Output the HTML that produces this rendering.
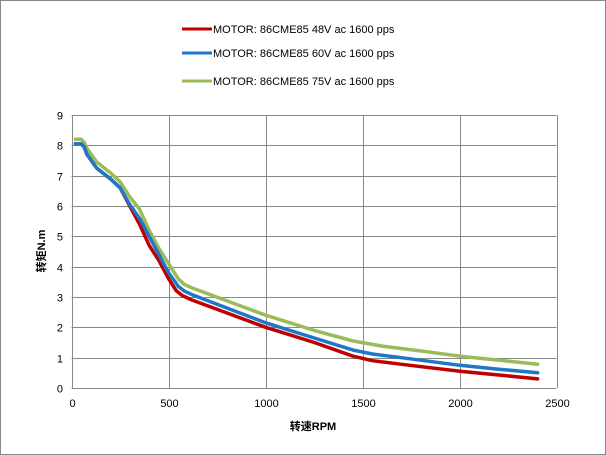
<!DOCTYPE html>
<html><head><meta charset="utf-8"><style>
html,body{margin:0;padding:0;background:#fff}
svg{display:block}
text{font-family:"Liberation Sans","Noto Sans CJK SC",sans-serif;font-size:11px;fill:#000}
</style></head><body>
<svg id="s" width="606" height="455" viewBox="0 0 606 455">
<rect x="0.5" y="0.5" width="605" height="454" fill="#fff" stroke="#888"/>
<g id="grid" stroke="#888" stroke-width="1"></g>
<g id="lab"></g>
<g id="ser" fill="none" stroke-width="3.5" stroke-linejoin="round" stroke-linecap="round"></g>
<line x1="182" y1="29" x2="212" y2="29" stroke="#C00000" stroke-width="3"/>
<text x="213" y="33" font-size="12">MOTOR: 86CME85 48V ac 1600 pps</text>
<line x1="182" y1="53" x2="212" y2="53" stroke="#1F77C8" stroke-width="3"/>
<text x="213" y="57" font-size="12">MOTOR: 86CME85 60V ac 1600 pps</text>
<line x1="182" y1="81" x2="212" y2="81" stroke="#9BBB59" stroke-width="3"/>
<text x="213" y="85" font-size="12">MOTOR: 86CME85 75V ac 1600 pps</text>
<text x="313" y="430" text-anchor="middle" font-weight="bold" font-size="12">转速RPM</text>
<text transform="translate(45,251) rotate(-90)" text-anchor="middle" font-weight="bold" font-size="12">转矩N.m</text>
</svg>
<script>
var X=function(r){return 71.5+r*0.1942},Y=function(v){return 388-v*30.33};
var g=document.getElementById('grid'),l=document.getElementById('lab'),ns='http://www.w3.org/2000/svg';
function el(p,t,a,txt){var e=document.createElementNS(ns,t);for(var k in a)e.setAttribute(k,a[k]);if(txt!==undefined)e.textContent=txt;p.appendChild(e);}
for(var v=0;v<=9;v++){var y=Math.round(Y(v))+0.5;el(g,'line',{x1:71.5,x2:556.5,y1:y,y2:y});el(l,'text',{x:63,y:y+4,'text-anchor':'end'},v);}
for(var r=0;r<=2500;r+=500){var x=Math.round(X(r))+0.5;el(g,'line',{x1:x,x2:x,y1:Y(9),y2:388});el(l,'text',{x:x,y:407,'text-anchor':'middle'},r);}
var S=[
['#9BBB59',[[20,8.2],[50,8.2],[65,8.1],[80,7.9],[130,7.45],[200,7.1],[250,6.8],[300,6.3],[350,5.9],[400,5.2],[450,4.6],[500,4.1],[550,3.6],[580,3.42],[620,3.3],[1000,2.4],[1250,1.9],[1450,1.55],[1600,1.38],[1800,1.22],[2000,1.05],[2200,0.92],[2400,0.78]]],
['#C00000',[[20,8.05],[50,8.05],[65,7.95],[80,7.7],[130,7.25],[200,6.9],[250,6.6],[300,6.0],[350,5.4],[400,4.7],[450,4.2],[500,3.6],[540,3.2],[570,3.05],[620,2.9],[1000,2.0],[1250,1.5],[1450,1.05],[1550,0.9],[1700,0.78],[2000,0.55],[2200,0.43],[2400,0.3]]],
['#1F77C8',[[20,8.05],[50,8.05],[65,7.95],[80,7.7],[130,7.25],[200,6.9],[250,6.6],[300,6.05],[350,5.6],[400,5.0],[450,4.4],[500,3.8],[550,3.35],[580,3.2],[620,3.08],[1000,2.15],[1250,1.65],[1450,1.25],[1550,1.12],[1700,1.0],[2000,0.75],[2200,0.62],[2400,0.5]]]];
var sg=document.getElementById('ser');
S.forEach(function(s){el(sg,'polyline',{stroke:s[0],points:s[1].map(function(p){return X(p[0]).toFixed(1)+','+Y(p[1]).toFixed(1)}).join(' ')});});
</script>
</body></html>
